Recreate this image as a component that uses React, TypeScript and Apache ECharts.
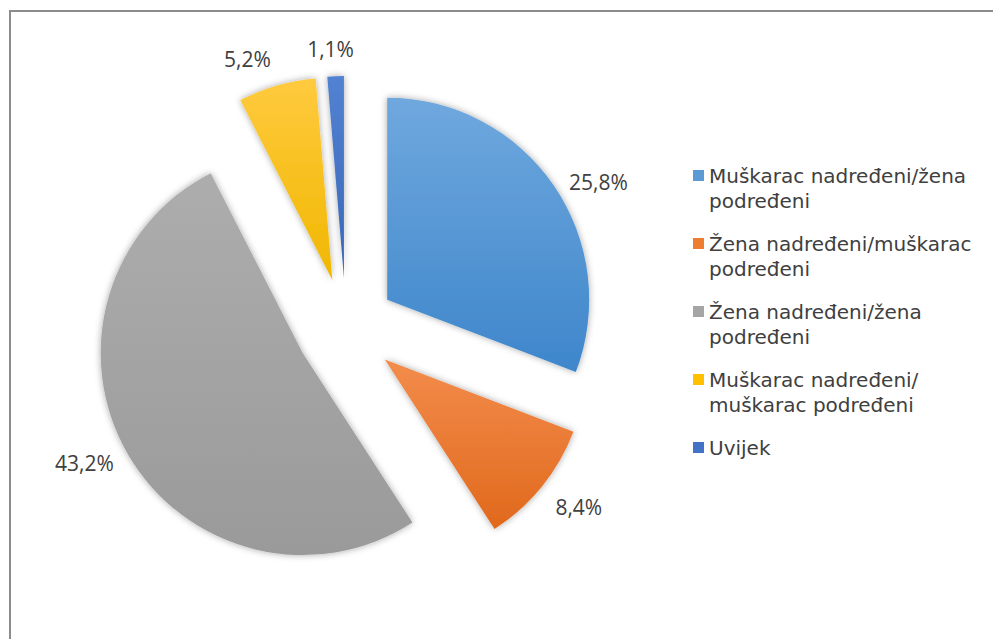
import React, { useEffect, useRef } from "react";
import * as echarts from "echarts";

const categories = [
  "Muškarac nadređeni/žena podređeni",
  "Žena nadređeni/muškarac podređeni",
  "Žena nadređeni/žena podređeni",
  "Muškarac nadređeni/muškarac podređeni",
  "Uvijek",
];
const values = [25.8, 8.4, 43.2, 5.2, 1.1];
const legendLabels = [
  "Muškarac nadređeni/žena\npodređeni",
  "Žena nadređeni/muškarac\npodređeni",
  "Žena nadređeni/žena\npodređeni",
  "Muškarac nadređeni/\nmuškarac podređeni",
  "Uvijek",
];

const baseColors = ["#5b9bd5", "#ed7d31", "#a5a5a5", "#ffc000", "#4472c4"];
const topColors = ["#6fa8de", "#f38c4c", "#adadad", "#ffca3e", "#5382d2"];
const bottomColors = ["#3e86cb", "#e0691c", "#9a9a9a", "#f0b700", "#3a66b6"];

const FONT = "'Open Sans', 'Liberation Sans', sans-serif";
const LEGEND_FONT = "'DejaVu Sans', 'Open Sans', sans-serif";

export default function App() {
  const ref = useRef<HTMLDivElement>(null);

  useEffect(() => {
    document.body.style.overflow = "hidden";
    const chart = echarts.init(ref.current!, null, { renderer: "svg" });
    // small nudges of the percentage labels (Excel "best fit" placement)
    const labelNudges = [
      [-7, 5],
      [-8, 11],
      [9, 1],
      [8, -12],
      [29, -12],
    ];
    const option = {
      animation: false,
      backgroundColor: "#ffffff",
      legend: [
        {
          // markers only, level with the first line of each entry
          orient: "vertical",
          left: 693,
          top: 170,
          padding: 0,
          itemWidth: 11,
          itemHeight: 11,
          itemGap: 57,
          icon: "rect",
          selectedMode: false,
          textStyle: { fontSize: 11, lineHeight: 11 },
          formatter: () => "",
          data: categories.map((n, i) => ({ name: n, itemStyle: { color: baseColors[i] } })),
        },
        {
          // wrapped entry texts
          orient: "vertical",
          left: 693,
          top: 163,
          padding: 0,
          itemWidth: 11,
          itemHeight: 11,
          itemGap: 18,
          icon: "rect",
          selectedMode: false,
          textStyle: {
            fontFamily: LEGEND_FONT,
            fontSize: 20,
            color: "#404040",
            lineHeight: 25,
          },
          formatter: (name: string) => legendLabels[categories.indexOf(name)],
          data: categories.map((n) => ({
            name: n,
            itemStyle: { color: "rgba(0,0,0,0)", opacity: 0 },
          })),
        },
      ],
      series: [
        {
          type: "pie",
          center: [346, 328],
          radius: 202,
          startAngle: 90,
          clockwise: true,
          selectedMode: "multiple",
          selectedOffset: 50,
          avoidLabelOverlap: false,
          emphasis: { disabled: true },
          label: {
            show: true,
            position: "outside",
            fontFamily: FONT,
            fontSize: 21,
            color: "#404040",
            formatter: (p: any) => p.value.toFixed(1).replace(".", ",") + "%",
          },
          labelLine: { show: false, length: 15, length2: 5 },
          labelLayout: (p: any) => {
            const n = labelNudges[p.dataIndex] || [0, 0];
            return { dx: n[0], dy: n[1] };
          },
          itemStyle: {
            shadowBlur: 7,
            shadowColor: "rgba(0,0,0,0.35)",
          },
          data: categories.map((n, i) => ({
            name: n,
            value: values[i],
            selected: true,
            itemStyle: {
              color: {
                type: "linear",
                x: 0,
                y: 0,
                x2: 0,
                y2: 1,
                colorStops: [
                  { offset: 0, color: topColors[i] },
                  { offset: 1, color: bottomColors[i] },
                ],
              },
            },
          })),
        },
      ],
    };
    chart.setOption(option as any);
    return () => chart.dispose();
  }, []);

  return (
    <>
      <div
        ref={ref}
        style={{ position: "absolute", left: 0, top: 0, width: 993, height: 639 }}
      />
      <div
        style={{
          position: "absolute",
          left: 9,
          top: 10,
          width: 984,
          height: 629,
          boxSizing: "border-box",
          borderTop: "2px solid #8c8c8c",
          borderLeft: "2px solid #8c8c8c",
          pointerEvents: "none",
        }}
      />
    </>
  );
}
